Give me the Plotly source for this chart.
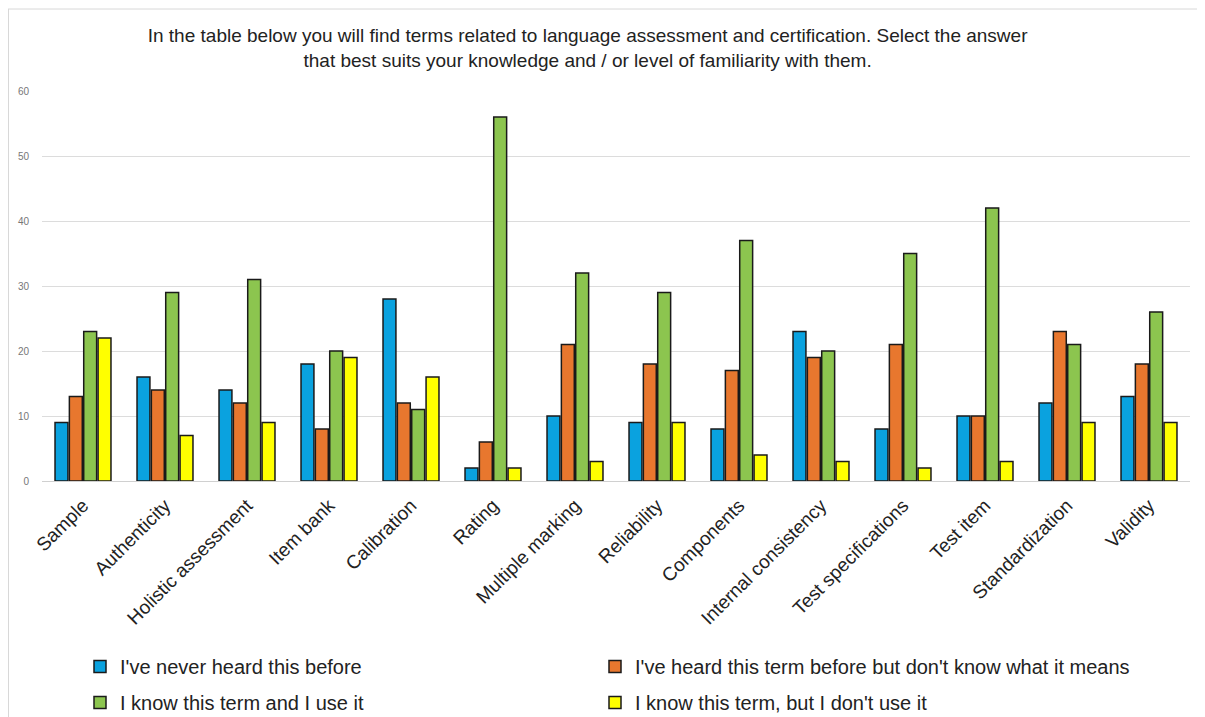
import plotly.graph_objects as go

categories = ["Sample", "Authenticity", "Holistic assessment", "Item bank", "Calibration",
              "Rating", "Multiple marking", "Reliability", "Components", "Internal consistency",
              "Test specifications", "Test item", "Standardization", "Validity"]
never_heard = [9, 16, 14, 18, 28, 2, 10, 9, 8, 23, 8, 10, 12, 13]
heard_not_know = [13, 14, 12, 8, 12, 6, 21, 18, 17, 19, 21, 10, 23, 18]
know_use = [23, 29, 31, 20, 11, 56, 32, 29, 37, 20, 35, 42, 21, 26]
know_not_use = [22, 7, 9, 19, 16, 2, 3, 9, 4, 3, 2, 3, 9, 9]

series_names = ["I've never heard this before",
                "I've heard this term before but don't know what it means",
                "I know this term and I use it",
                "I know this term, but I don't use it"]
colors = ["#0AA2DF", "#E8772E", "#8CC54F", "#FFFF00"]
legend_ids = ["legend", "legend2", "legend3", "legend4"]

W, H = 1205, 717
# figure-pixel layout (page is offset by the 8px body margin)
L, R, T, B = 34, 23, 83, 244
ph = H - T - B
pw = W - L - R

def py(pix):
    return (H - B - pix) / ph

def px(pix):
    return (pix - L) / pw

font_family = "Liberation Sans, Arial, Helvetica, sans-serif"

fig = go.Figure()
for name, vals, col, lg in zip(series_names,
                               [never_heard, heard_not_know, know_use, know_not_use],
                               colors, legend_ids):
    fig.add_trace(go.Bar(x=categories, y=vals, name=name, legend=lg,
                         marker=dict(color=col, line=dict(color="#1a1a1a", width=1.5))))

legend_pos = {"legend": (72, 639), "legend2": (587, 639),
              "legend3": (72, 675), "legend4": (587, 675)}
legend_layout = {}
for lg, (lx, ly) in legend_pos.items():
    legend_layout[lg] = dict(orientation="h", x=px(lx), xanchor="left", y=py(ly), yanchor="top",
                             itemwidth=30,
                             font=dict(size=20, color="#222222", family=font_family),
                             bgcolor="rgba(0,0,0,0)", itemclick=False, itemdoubleclick=False)

fig.update_layout(
    width=W, height=H,
    margin=dict(l=L, r=R, t=T, b=B, autoexpand=False),
    paper_bgcolor="white", plot_bgcolor="white",
    font=dict(family=font_family, color="#222222"),
    title=dict(text="In the table below you will find terms related to language assessment and certification. Select the answer<br>that best suits your knowledge and / or level of familiarity with them.",
               x=0.481, xanchor="center", xref="container",
               y=1 - 34 / H, yanchor="top", yref="container",
               font=dict(size=19, color="#222222", family=font_family)),
    barmode="group", bargap=0.3, bargroupgap=0.1,
    showlegend=True,
    **legend_layout,
    xaxis=dict(tickangle=-45, tickfont=dict(size=19, color="#222222"),
               showgrid=False, showline=False, automargin=False,
               ticks="outside", ticklen=5, tickcolor="rgba(0,0,0,0)"),
    yaxis=dict(range=[0, 60], dtick=10, showgrid=True, gridcolor="#dcdcdc", gridwidth=1,
               zeroline=True, zerolinecolor="#d0d0d0", zerolinewidth=1, automargin=False,
               tickfont=dict(size=10, color="#777777"),
               ticks="outside", ticklen=10, tickcolor="rgba(0,0,0,0)"),
    shapes=[dict(type="line", xref="paper", yref="paper",
                 x0=px(0.5), x1=px(0.5), y0=py(1), y1=py(717),
                 line=dict(color="#d8d8d8", width=1)),
            dict(type="line", xref="paper", yref="paper",
                 x0=px(0), x1=px(1205), y0=py(1), y1=py(1),
                 line=dict(color="#d8d8d8", width=1))],
)

fig.write_html("out.html")
